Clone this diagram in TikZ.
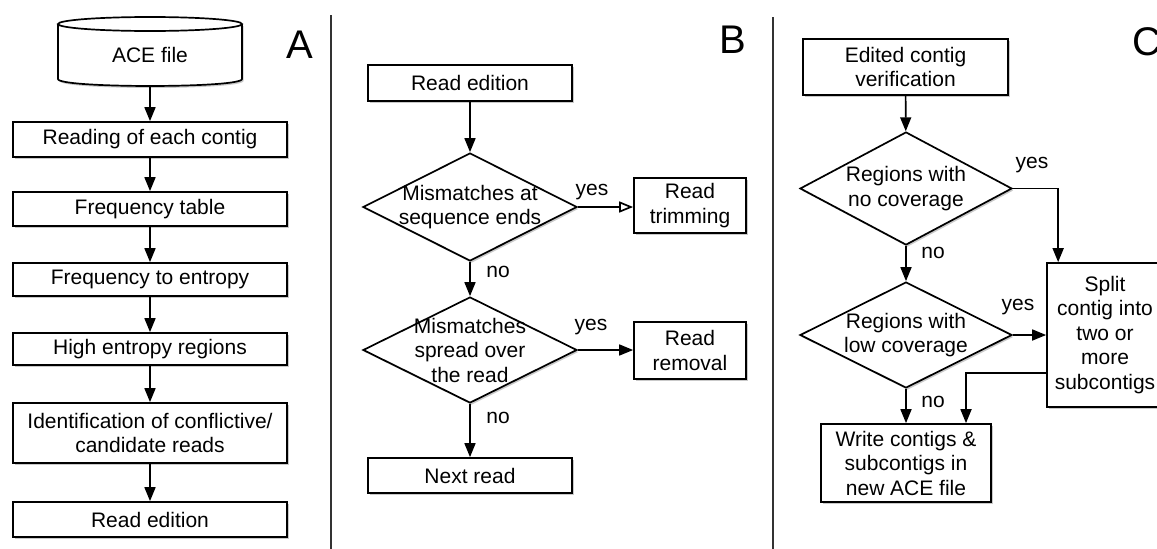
\documentclass[tikz,border=0pt]{standalone}
\usepackage{fontspec}
\setmainfont{Liberation Sans}
\usetikzlibrary{arrows.meta,shapes.geometric,shadows,calc}
\begin{document}
\begin{tikzpicture}[x=1pt,y=-1pt,
  font=\fontsize{21}{24.5}\selectfont,
  line width=1.7pt,
  shade box/.style={drop shadow={shadow xshift=1.5pt,shadow yshift=-2pt,opacity=0.3,fill=black!70}},
  stepbox/.style={draw,fill=white,shade box,align=center,inner sep=0pt},
  decision/.style={diamond,draw,fill=white,shade box,inner sep=0pt},
  qtext/.style={align=center,inner sep=0pt},
  flow/.style={-{Triangle[length=14pt,width=11pt]}},
  openflow/.style={-{Triangle[open,length=14pt,width=11pt]}},
  tag/.style={inner sep=0pt},
  panel/.style={font=\fontsize{40}{40}\selectfont,inner sep=0pt},
  divider/.style={draw=black!80,line width=1.8pt}]
\useasboundingbox (0,0) rectangle (1157,549);
\begin{scope}
\clip (0,0) rectangle (1157,549);

% ---------- Panel A ----------
\fill[black!70,opacity=0.3,xshift=1.5pt,yshift=-2pt]
  (58,24) -- (58,79) .. controls (58,88.3) and (242,88.3) .. (242,79) -- (242,24) -- cycle;
\filldraw[fill=white] (58,24) -- (58,79) .. controls (58,88.3) and (242,88.3) .. (242,79) -- (242,24);
\filldraw[fill=white] (150,24) ellipse [x radius=92pt, y radius=7pt];
\node[minimum width=184pt,minimum height=61pt,inner sep=0pt] (ace) at (150,55) {ACE file};

\node[stepbox,minimum width=274pt,minimum height=35pt] (readc) at (150,139.5) {Reading of each contig};
\node[stepbox,minimum width=274pt,minimum height=34pt] (freq) at (150,209) {Frequency table};
\node[stepbox,minimum width=274pt,minimum height=33pt] (ent) at (150,279.5) {Frequency to entropy};
\node[stepbox,minimum width=274pt,minimum height=32pt] (high) at (150,349) {High entropy regions};
\node[stepbox,minimum width=274pt,minimum height=60pt] (ident) at (150,433) {Identification of conflictive/\\candidate reads};
\node[stepbox,minimum width=274pt,minimum height=35pt] (edA) at (150,519.5) {Read edition};

\draw[flow] ([yshift=-30.5pt]ace.center) -- (readc.north);
\draw[flow] (readc) -- (freq);
\draw[flow] (freq) -- (ent);
\draw[flow] (ent) -- (high);
\draw[flow] (high) -- (ident);
\draw[flow] (ident) -- (edA);

\node[panel] (labA) at (300,45) {A};

% dividers
\coordinate (dv1t) at (331,15);
\coordinate (dv1b) at (331,549);
\coordinate (dv2t) at (773,17);
\coordinate (dv2b) at (773,549);
\draw[divider] (dv1t) -- (dv1b);
\draw[divider] (dv2t) -- (dv2b);

% ---------- Panel B ----------
\node[stepbox,minimum width=204pt,minimum height=36pt] (edB) at (470,83) {Read edition};
\node[decision,minimum width=214pt,minimum height=108pt] (d1) at (470,207) {};
\node[qtext] (q1) at (470,207) {Mismatches at\\sequence ends};
\node[stepbox,minimum width=112pt,minimum height=55pt] (trim) at (690,205.5) {Read\\trimming};
\node[decision,minimum width=214pt,minimum height=106pt] (d2) at (470,350) {};
\node[qtext] (q2) at (470,350) {Mismatches\\spread over\\the read};
\node[stepbox,minimum width=112pt,minimum height=57pt] (remv) at (690,350.5) {Read\\removal};
\node[stepbox,minimum width=204pt,minimum height=35pt] (next) at (470,475.5) {Next read};

\draw[flow] (edB) -- (d1);
\draw[openflow] (d1.east) -- (d1.east -| trim.west);
\draw[flow] (d1) -- (d2);
\draw[flow] (d2.east) -- (d2.east -| remv.west);
\draw[flow] (d2) -- (next);

\node[tag] (y1) at (592,192) {yes};
\node[tag] (n1) at (498,272) {no};
\node[tag] (y2) at (591,327) {yes};
\node[tag] (n2) at (498,418) {no};

\node[panel] (labB) at (733,40) {B};

% ---------- Panel C ----------
\node[stepbox,minimum width=205pt,minimum height=56pt] (ver) at (905.5,67) {Edited contig\\verification};
\node[decision,minimum width=212pt,minimum height=113pt] (d3) at (906,188.5) {};
\node[qtext] (q3) at (906,188.5) {Regions with\\no coverage};
\node[decision,minimum width=212pt,minimum height=106pt] (d4) at (906,335) {};
\node[qtext] (q4) at (906,335) {Regions with\\low coverage};
\node[stepbox,minimum width=116pt,minimum height=144pt] (split) at (1105,335) {Split\\contig into\\two or\\more\\subcontigs};
\node[stepbox,minimum width=170pt,minimum height=78pt] (write) at (906,463) {Write contigs \&\\subcontigs in\\new ACE file};

\draw[flow] (ver) -- (d3);
\draw[flow] (d3.east) -| ([xshift=12pt]split.north west);
\draw[flow] (d3) -- (d4);
\draw[flow] (d4.east) -- (d4.east -| split.west);
\draw[flow] (d4) -- (write);
\draw[flow] ([yshift=-38pt]split.west) -| ([xshift=60pt]write.north);

\node[tag] (y3) at (1032,165) {yes};
\node[tag] (n3) at (933,253) {no};
\node[tag] (y4) at (1018,307) {yes};
\node[tag] (n4) at (933,402) {no};

\node[panel] (labC) at (1147,42) {C};
\end{scope}
\end{tikzpicture}
\end{document}
